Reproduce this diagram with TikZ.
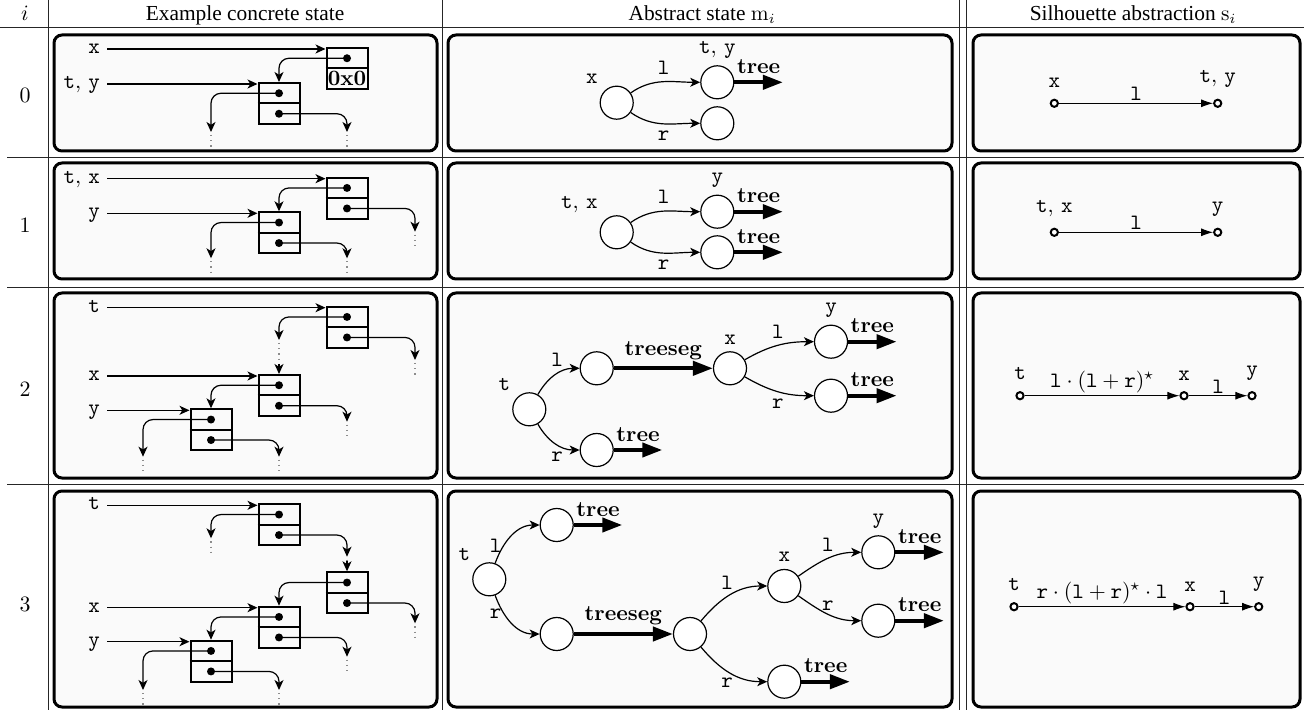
\documentclass[tikz,border=0pt]{standalone}
\usepackage{fontspec}
\newfontfamily\headfont{Liberation Serif}
\usetikzlibrary{arrows.meta}
\usetikzlibrary{calc}

\tikzset{
  panel/.style={draw, line width=1.5pt, rounded corners=4pt, fill=black!2},
  tabrule/.style={line width=0.4pt, black!85},
  hdr/.style={anchor=base, font=\fontsize{10.7}{12}\selectfont\headfont},
  recbox/.style={draw, line width=1pt, minimum size=20.5pt, inner sep=0pt},
  ptrdot/.style={circle, fill, inner sep=0pt, minimum size=4pt},
  ptr/.style={line width=0.6pt, rounded corners=5pt, -{Stealth[length=5pt,width=4.5pt,inset=1.4pt]}},
  nilptr/.style={dotted, black!45, line width=0.6pt},
  varname/.style={anchor=mid east},
  absnode/.style={circle, draw, line width=0.6pt, fill=white, minimum size=16.5pt, inner sep=0pt},
  link/.style={line width=0.6pt, -{Stealth[length=5pt,width=4.5pt,inset=1.4pt]}},
  treearrow/.style={line width=2pt, -{Triangle[length=10pt,width=7pt]}},
  sdot/.style={circle, draw, line width=1pt, fill=white, inner sep=0pt, minimum size=3.6pt},
  slink/.style={line width=0.5pt, -{Latex[length=6pt,width=4pt]}},
}

% two-field heap cell, both fields pointers
\newcommand\heapcell[3]{%
  \node[recbox] (#1) at (#2,#3) {};
  \draw[line width=1pt] (#1.west) -- (#1.east);
  \node[ptrdot] (#1u) at (#2,#3-10.25) {};
  \node[ptrdot] (#1l) at (#2,#3+10.25) {};}
% heap cell whose second field is null
\newcommand\heapcellnull[3]{%
  \node[recbox] (#1) at (#2,#3) {};
  \draw[line width=1pt] (#1.west) -- (#1.east);
  \node[ptrdot] (#1u) at (#2,#3-10.25) {};
  \node (#1l) at (#2,#3+10.25) {\textbf{0x0}};}
% pointer into the unknown part of the heap
\newcommand\danglingptr[3]{%
  \coordinate (#1e) at (#2,#3);
  \draw[ptr] (#1.center) -| (#1e);
  \draw[nilptr] ($(#1e)+(0,3)$) -- ($(#1e)+(0,15)$);}
% pointer reaching a cell through an unknown part
\newcommand\chainptr[4]{%
  \coordinate (#1e) at (#2,#3);
  \draw[ptr] (#1.center) -| (#1e);
  \draw[nilptr] ($(#1e)+(0,3)$) -- ($(#4.north)+(0,-10)$);
  \draw[ptr] ($(#4.north)+(0,-10)$) -- (#4.north);}
\newcommand\treearrowfrom[1]{%
  \path (#1.east) ++(48.5,0) coordinate (#1end);
  \draw[treearrow] (#1) -- (#1end) node[midway, above] {\textbf{tree}};}

\begin{document}
\begin{tikzpicture}[x=0.5pt, y=-0.5pt, font=\fontsize{10.95}{13}\selectfont]
\useasboundingbox (0,0) rectangle (1304,710);

% table
\foreach \ya/\yb in {35/151, 163/279, 293/478, 491/707} {
  \draw[panel] (54,\ya) rectangle (437,\yb);
  \draw[panel] (448,\ya) rectangle (952,\yb);
  \draw[panel] (973,\ya) rectangle (1300,\yb);
}
\draw[tabrule] (0,27.5) -- (1304,27.5);
\foreach \y in {157,287,484} \draw[tabrule] (7,\y) -- (1304,\y);
\foreach \x in {48,442,959.5,966} \draw[tabrule] (\x,0) -- (\x,710);

\node[hdr] (hi) at (25,20.5) {$i$};
\node[hdr] (hconc) at (245,20.5) {Example concrete state};
\node[hdr] (habs) at (702,20.5) {Abstract state $\mathrm{m}_i$};
\node[hdr] (hsil) at (1133,20.5) {Silhouette abstraction $\mathrm{s}_i$};
\node (i0) at (25,95) {$0$};
\node (i1) at (25,225) {$1$};
\node (i2) at (25,389) {$2$};
\node (i3) at (25,604.5) {$3$};

% concrete states
\heapcellnull{a0}{347}{68.5}
\heapcell{b0}{279}{103.5}
\node[varname] (vx0) at (107,49) {\texttt{x}};
\node[varname] (vty0) at (107,84) {$\mathtt{t},\,\mathtt{y}$};
\draw[ptr] (vx0.mid east) -- (vx0.mid east -| a0.west);
\draw[ptr] (vty0.mid east) -- (vty0.mid east -| b0.west);
\draw[ptr] (a0u.center) -| (b0.north);
\danglingptr{b0u}{211}{132}
\danglingptr{b0l}{347}{132}

\heapcell{a1}{347}{198.2}
\heapcell{b1}{279}{232.8}
\node[varname] (vtx1) at (107,178.7) {$\mathtt{t},\,\mathtt{x}$};
\node[varname] (vy1) at (107,213.3) {\texttt{y}};
\draw[ptr] (vtx1.mid east) -- (vtx1.mid east -| a1.west);
\draw[ptr] (vy1.mid east) -- (vy1.mid east -| b1.west);
\draw[ptr] (a1u.center) -| (b1.north);
\danglingptr{a1l}{415}{231.7}
\danglingptr{b1u}{211}{258.3}
\danglingptr{b1l}{347}{258.3}

\heapcell{a2}{347}{327.2}
\heapcell{b2}{279}{395.5}
\heapcell{c2}{211}{429.8}
\node[varname] (vt2) at (107,307.7) {\texttt{t}};
\node[varname] (vx2) at (107,376) {\texttt{x}};
\node[varname] (vy2) at (107,410.3) {\texttt{y}};
\draw[ptr] (vt2.mid east) -- (vt2.mid east -| a2.west);
\draw[ptr] (vx2.mid east) -- (vx2.mid east -| b2.west);
\draw[ptr] (vy2.mid east) -- (vy2.mid east -| c2.west);
\chainptr{a2u}{279}{340}{b2}
\danglingptr{a2l}{415}{360}
\draw[ptr] (b2u.center) -| (c2.north);
\danglingptr{b2l}{347}{421.7}
\danglingptr{c2u}{143}{456.7}
\danglingptr{c2l}{279}{456.7}

\heapcell{a3}{279}{524.8}
\heapcell{b3}{347}{592.8}
\heapcell{c3}{279}{627.2}
\heapcell{d3}{211}{661.2}
\node[varname] (vt3) at (107,505.3) {\texttt{t}};
\node[varname] (vx3) at (107,607.7) {\texttt{x}};
\node[varname] (vy3) at (107,641.7) {\texttt{y}};
\draw[ptr] (vt3.mid east) -- (vt3.mid east -| a3.west);
\draw[ptr] (vx3.mid east) -- (vx3.mid east -| c3.west);
\draw[ptr] (vy3.mid east) -- (vy3.mid east -| d3.west);
\danglingptr{a3u}{211}{538.3}
\chainptr{a3l}{347}{556.7}{b3}
\draw[ptr] (b3u.center) -| (c3.north);
\danglingptr{b3l}{415}{623.3}
\draw[ptr] (c3u.center) -| (d3.north);
\danglingptr{c3l}{347}{656.7}
\danglingptr{d3u}{143}{690}
\danglingptr{d3l}{279}{690}

% abstract states
\node[absnode, label=above left:{\texttt{x}}] (m0x) at (616.7,102.7) {};
\node[absnode, label=above:{$\mathtt{t},\,\mathtt{y}$}] (m0ty) at (717.3,82.3) {};
\node[absnode] (m0r) at (717.3,123.3) {};
\draw[link] (m0x) to[out=35,in=180] node[above] {\texttt{l}} (m0ty);
\draw[link] (m0x) to[out=-35,in=180] node[below] {\texttt{r}} (m0r);
\treearrowfrom{m0ty}

\node[absnode, label=above left:{$\mathtt{t},\,\mathtt{x}$}] (m1tx) at (616.7,232.3) {};
\node[absnode, label=above:{\texttt{y}}] (m1y) at (717.3,211.7) {};
\node[absnode] (m1r) at (717.3,252.3) {};
\draw[link] (m1tx) to[out=35,in=180] node[above] {\texttt{l}} (m1y);
\draw[link] (m1tx) to[out=-35,in=180] node[below] {\texttt{r}} (m1r);
\treearrowfrom{m1y}
\treearrowfrom{m1r}

\node[absnode, label=above left:{\texttt{t}}] (m2t) at (529.3,409.3) {};
\node[absnode] (m2l) at (596.7,368.3) {};
\node[absnode] (m2r) at (596.7,450) {};
\node[absnode, label=above:{\texttt{x}}] (m2x) at (730,368.3) {};
\node[absnode, label=above:{\texttt{y}}] (m2y) at (831,341.7) {};
\node[absnode] (m2xr) at (831,395.7) {};
\draw[link] (m2t) to[out=60,in=180] node[above, pos=0.55] {\texttt{l}} (m2l);
\draw[link] (m2t) to[out=-60,in=180] node[below, pos=0.55] {\texttt{r}} (m2r);
\draw[treearrow] (m2l) -- (m2x) node[midway, above] {\textbf{treeseg}};
\draw[link] (m2x) to[out=30,in=180] node[above] {\texttt{l}} (m2y);
\draw[link] (m2x) to[out=-30,in=180] node[below] {\texttt{r}} (m2xr);
\treearrowfrom{m2y}
\treearrowfrom{m2xr}
\treearrowfrom{m2r}

\node[absnode, label=above left:{\texttt{t}}] (m3t) at (489.3,579.3) {};
\node[absnode] (m3l) at (556.7,525) {};
\node[absnode] (m3r) at (556.7,634) {};
\node[absnode] (m3m) at (690,634) {};
\node[absnode, label=above:{\texttt{x}}] (m3x) at (784.3,586) {};
\node[absnode, label=above:{\texttt{y}}] (m3y) at (878.3,552.3) {};
\node[absnode] (m3xr) at (878.3,620.7) {};
\node[absnode] (m3mr) at (784.3,681.7) {};
\draw[link] (m3t) to[out=70,in=180] node[left, pos=0.3, inner sep=1pt] {\texttt{l}} (m3l);
\draw[link] (m3t) to[out=-70,in=180] node[left, pos=0.3, inner sep=1pt] {\texttt{r}} (m3r);
\draw[treearrow] (m3r) -- (m3m) node[midway, above] {\textbf{treeseg}};
\draw[link] (m3m) to[out=50,in=180] node[above, pos=0.45] {\texttt{l}} (m3x);
\draw[link] (m3m) to[out=-50,in=180] node[below, pos=0.45] {\texttt{r}} (m3mr);
\draw[link] (m3x) to[out=35,in=180] node[above] {\texttt{l}} (m3y);
\draw[link] (m3x) to[out=-35,in=180] node[above, inner sep=1.5pt] {\texttt{r}} (m3xr);
\treearrowfrom{m3l}
\treearrowfrom{m3y}
\treearrowfrom{m3xr}
\treearrowfrom{m3mr}

% silhouettes
\node[sdot, label={[label distance=2pt]above:\texttt{x}}] (s0x) at (1054.3,103.3) {};
\node[sdot, label={[label distance=2pt]above:$\mathtt{t},\,\mathtt{y}$}] (s0ty) at (1217.7,103.3) {};
\draw[slink] (s0x) -- (s0ty) node[midway, above, inner sep=1pt] {\texttt{l}};

\node[sdot, label={[label distance=2pt]above:$\mathtt{t},\,\mathtt{x}$}] (s1tx) at (1054.3,232.3) {};
\node[sdot, label={[label distance=2pt]above:\texttt{y}}] (s1y) at (1217.7,232.3) {};
\draw[slink] (s1tx) -- (s1y) node[midway, above, inner sep=1pt] {\texttt{l}};

\node[sdot, label={[label distance=2pt]above:\texttt{t}}] (s2t) at (1020,395.7) {};
\node[sdot, label={[label distance=2pt]above:\texttt{x}}] (s2x) at (1184,395.7) {};
\node[sdot, label={[label distance=2pt]above:\texttt{y}}] (s2y) at (1252,395.7) {};
\draw[slink] (s2t) -- (s2x) node[midway, above, inner sep=1pt] {$\mathtt{l}\cdot(\mathtt{l}+\mathtt{r})^\star$};
\draw[slink] (s2x) -- (s2y) node[midway, above, inner sep=1pt] {\texttt{l}};

\node[sdot, label={[label distance=2pt]above:\texttt{t}}] (s3t) at (1014,606.7) {};
\node[sdot, label={[label distance=2pt]above:\texttt{x}}] (s3x) at (1190,606.7) {};
\node[sdot, label={[label distance=2pt]above:\texttt{y}}] (s3y) at (1258.7,606.7) {};
\draw[slink] (s3t) -- (s3x) node[midway, above, inner sep=1pt] {$\mathtt{r}\cdot(\mathtt{l}+\mathtt{r})^\star\cdot\mathtt{l}$};
\draw[slink] (s3x) -- (s3y) node[midway, above, inner sep=1pt] {\texttt{l}};
\end{tikzpicture}
\end{document}
